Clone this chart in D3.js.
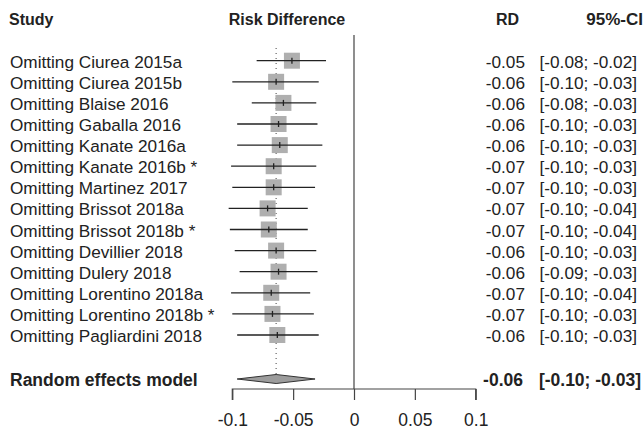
<!DOCTYPE html>
<html>
<head>
<meta charset="utf-8">
<script src="https://cdn.jsdelivr.net/npm/d3@7"></script>
<style>
  html, body { margin: 0; padding: 0; background: #fff; }
  svg { display: block; font-family: "Liberation Sans", Arial, sans-serif; }
</style>
</head>
<body>
<svg id="chart" width="643" height="437"></svg>
<script>
// Leave-one-out sensitivity analysis (risk difference)
const studies = [
  "Omitting Ciurea 2015a", "Omitting Ciurea 2015b", "Omitting Blaise 2016",
  "Omitting Gaballa 2016", "Omitting Kanate 2016a", "Omitting Kanate 2016b *",
  "Omitting Martinez 2017", "Omitting Brissot 2018a", "Omitting Brissot 2018b *",
  "Omitting Devillier 2018", "Omitting Dulery 2018", "Omitting Lorentino 2018a",
  "Omitting Lorentino 2018b *", "Omitting Pagliardini 2018"
];
const rd    = [-0.051, -0.064, -0.058, -0.062, -0.061, -0.066, -0.066, -0.071, -0.070, -0.064, -0.062, -0.068, -0.067, -0.063];
const lower = [-0.080, -0.100, -0.084, -0.096, -0.096, -0.101, -0.100, -0.103, -0.102, -0.098, -0.094, -0.101, -0.100, -0.096];
const upper = [-0.023, -0.029, -0.031, -0.030, -0.026, -0.031, -0.032, -0.038, -0.038, -0.031, -0.030, -0.036, -0.033, -0.029];
const pooledLabel = "Random effects model";
const pooled = { rd: -0.064, lower: -0.096, upper: -0.032 };
const xTicks = [-0.1, -0.05, 0, 0.05, 0.1];
const xTickLabels = ["-0.1", "-0.05", "0", "0.05", "0.1"];

const svg = d3.select("#chart");
const textColor = "#222";
const fsRow = 17.2, fsHead = 16, fsPooled = 17.5, fsTick = 17.5;

const x = d3.scaleLinear().domain([-0.1, 0.1]).range([232.3, 475.7]);
const y = d3.scaleLinear().domain([0, studies.length - 1]).range([60.7, 335]);
const yPooled = 379;
const yAxis = 389;
const fmt = v => v.toFixed(2);
const ci = (lo, hi) => `[${fmt(lo)}; ${fmt(hi)}]`;

// column headers
const head = svg.append("g").attr("font-weight", "bold").attr("font-size", fsHead).attr("fill", textColor);
head.append("text").attr("x", 9).attr("y", 25).text("Study");
head.append("text").attr("x", 287).attr("y", 25).attr("text-anchor", "middle").text("Risk Difference");
head.append("text").attr("x", 519).attr("y", 25).attr("text-anchor", "end").text("RD");
head.append("text").attr("x", 643).attr("y", 25).attr("text-anchor", "end").attr("font-size", 17).text("95%-CI");

// line of no effect
svg.append("line")
  .attr("x1", x(0)).attr("x2", x(0)).attr("y1", 35).attr("y2", yAxis)
  .attr("stroke", "#444").attr("stroke-width", 1.2);

// pooled estimate reference line
svg.append("line")
  .attr("x1", x(pooled.rd)).attr("x2", x(pooled.rd)).attr("y1", 48).attr("y2", yPooled - 4)
  .attr("stroke", "#444").attr("stroke-width", 1).attr("stroke-dasharray", "1,4");

// study rows
const rows = svg.append("g").selectAll("g").data(studies).join("g");
const box = 16;
rows.append("rect")
  .attr("x", (d, i) => x(rd[i]) - box / 2)
  .attr("y", (d, i) => y(i) - box / 2)
  .attr("width", box).attr("height", box)
  .attr("fill", "#afafaf");
rows.append("line")
  .attr("x1", (d, i) => x(lower[i])).attr("x2", (d, i) => x(upper[i]))
  .attr("y1", (d, i) => y(i)).attr("y2", (d, i) => y(i))
  .attr("stroke", "#222").attr("stroke-width", 1.3);
rows.append("line")
  .attr("x1", (d, i) => x(rd[i])).attr("x2", (d, i) => x(rd[i]))
  .attr("y1", (d, i) => y(i) - 3).attr("y2", (d, i) => y(i) + 3)
  .attr("stroke", "#222").attr("stroke-width", 1.3);
rows.append("text")
  .attr("x", 10).attr("y", (d, i) => y(i) + 7)
  .attr("font-size", fsRow).attr("fill", textColor).text(d => d);
rows.append("text")
  .attr("x", 525).attr("y", (d, i) => y(i) + 7).attr("text-anchor", "end")
  .attr("font-size", fsRow).attr("fill", textColor).text((d, i) => fmt(rd[i]));
rows.append("text")
  .attr("x", 637).attr("y", (d, i) => y(i) + 7).attr("text-anchor", "end")
  .attr("font-size", fsRow).attr("fill", textColor)
  .text((d, i) => ci(lower[i], upper[i]));

// pooled diamond
const dh = 4.5;
svg.append("path")
  .attr("d", `M${x(pooled.lower)},${yPooled} L${x(pooled.rd)},${yPooled - dh} L${x(pooled.upper)},${yPooled} L${x(pooled.rd)},${yPooled + dh} Z`)
  .attr("fill", "#9c9c9c").attr("stroke", "#333").attr("stroke-width", 1);
const pg = svg.append("g").attr("font-weight", "bold").attr("font-size", fsPooled).attr("fill", textColor);
pg.append("text").attr("x", 10).attr("y", yPooled + 7).text(pooledLabel);
pg.append("text").attr("x", 523).attr("y", yPooled + 7).attr("text-anchor", "end").text(fmt(pooled.rd));
pg.append("text").attr("x", 641).attr("y", yPooled + 7).attr("text-anchor", "end")
  .text(ci(pooled.lower, pooled.upper));

// x axis
const axis = d3.axisBottom(x).tickValues(xTicks).tickSize(11).tickPadding(14)
  .tickFormat((d, i) => xTickLabels[i]);
const ag = svg.append("g").attr("transform", `translate(0,${yAxis})`).call(axis);
ag.select(".domain").attr("stroke", "#444").attr("stroke-width", 1.2)
  .attr("d", `M${x(-0.1)},11V0H${x(0.1)}V11`);
ag.selectAll(".tick line").attr("stroke", "#444").attr("stroke-width", 1.2);
ag.selectAll(".tick text").attr("font-size", fsTick).attr("fill", textColor)
  .attr("font-family", "Liberation Sans, Arial, sans-serif");
</script>
</body>
</html>
